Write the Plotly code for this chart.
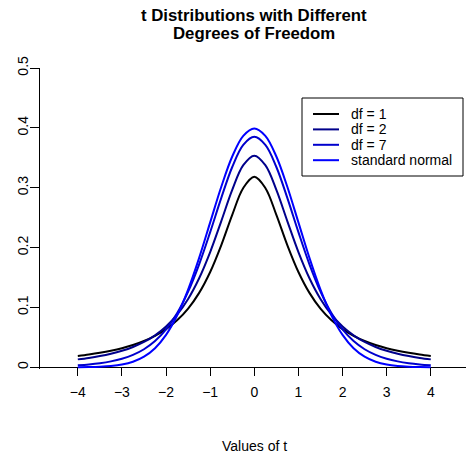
import plotly.graph_objects as go

# t values (x grid)
t_values = [-4.0, -3.75, -3.5, -3.25, -3.0, -2.75, -2.5, -2.25, -2.0, -1.75, -1.5, -1.25, -1.0,
            -0.75, -0.5, -0.25, 0.0, 0.25, 0.5, 0.75, 1.0, 1.25, 1.5, 1.75, 2.0, 2.25, 2.5,
            2.75, 3.0, 3.25, 3.5, 3.75, 4.0]

# density values (one side; curves are symmetric about 0)
_df1_half = [0.31831, 0.29959, 0.25465, 0.20372, 0.15915, 0.12422, 0.09794, 0.07835, 0.06366,
             0.05251, 0.04390, 0.03717, 0.03183, 0.02753, 0.02402, 0.02113, 0.01872]
_df2_half = [0.35355, 0.33761, 0.29630, 0.24378, 0.19245, 0.14872, 0.11413, 0.08779, 0.06804,
             0.05328, 0.04220, 0.03382, 0.02741, 0.02246, 0.01859, 0.01553, 0.01309]
_df7_half = [0.38499, 0.37154, 0.33457, 0.28261, 0.22567, 0.17196, 0.12626, 0.09016, 0.06314,
             0.04366, 0.02999, 0.02055, 0.01410, 0.00972, 0.00673, 0.00470, 0.00330]
_norm_half = [0.39894, 0.38667, 0.35207, 0.30114, 0.24197, 0.18265, 0.12952, 0.08628, 0.05399,
              0.03174, 0.01753, 0.00909, 0.00443, 0.00203, 0.00087, 0.00035, 0.00013]

density_df1 = _df1_half[::-1] + _df1_half[1:]
density_df2 = _df2_half[::-1] + _df2_half[1:]
density_df7 = _df7_half[::-1] + _df7_half[1:]
density_normal = _norm_half[::-1] + _norm_half[1:]

series_names = ["df = 1", "df = 2", "df = 7", "standard normal"]
series_values = [density_df1, density_df2, density_df7, density_normal]
series_colors = ["#000000", "#00008B", "#0000CD", "#0000FF"]

x_ticks = [-4, -3, -2, -1, 0, 1, 2, 3, 4]
x_tick_labels = ["\u22124", "\u22123", "\u22122", "\u22121", "0", "1", "2", "3", "4"]
y_ticks = [0, 0.1, 0.2, 0.3, 0.4, 0.5]
y_tick_labels = ["0", "0.1", "0.2", "0.3", "0.4", "0.5"]

FONT = "Liberation Sans, Arial, Helvetica, sans-serif"

W, H = 466, 453
# plot area in page pixels: x 40..466, y 68..369
ML, MT = 40, 68
MR = 0
MB = H - 369
PW, PH = W - ML - MR, H - MT - MB


def px_x(p):
    # page pixel -> paper x
    return (p - ML) / PW


def px_y(p):
    # page pixel -> paper y
    return (H - MB - p) / PH


fig = go.Figure()
for name, vals, col in zip(series_names, series_values, series_colors):
    fig.add_trace(go.Scatter(x=t_values, y=vals, mode="lines", name=name, showlegend=False,
                             hoverinfo="skip",
                             line=dict(color=col, width=2, shape="spline", smoothing=1.0)))

# manual legend box (R style)
shapes = [dict(type="rect", xref="paper", yref="paper",
               x0=px_x(302), x1=px_x(463), y0=px_y(176), y1=px_y(98),
               line=dict(color="black", width=1), fillcolor="white", layer="above")]
annotations = []
row_y = [114, 129.4, 144.8, 160.2]
for name, col, ry in zip(series_names, series_colors, row_y):
    shapes.append(dict(type="line", xref="paper", yref="paper",
                       x0=px_x(313), x1=px_x(339), y0=px_y(ry), y1=px_y(ry),
                       line=dict(color=col, width=2), layer="above"))
    annotations.append(dict(text=name, xref="paper", yref="paper", x=px_x(349), y=px_y(ry),
                            xanchor="left", yanchor="middle", showarrow=False,
                            font=dict(family=FONT, size=14, color="black")))

annotations += [
    dict(text="<b>t Distributions with Different</b>", xref="x", yref="paper",
         x=0, y=px_y(15), xanchor="center", yanchor="middle",
         showarrow=False, font=dict(family=FONT, size=16.8, color="black")),
    dict(text="<b>Degrees of Freedom</b>", xref="x", yref="paper",
         x=0, y=px_y(34), xanchor="center", yanchor="middle",
         showarrow=False, font=dict(family=FONT, size=16.8, color="black")),
    dict(text="Values of t", xref="x", yref="paper",
         x=0, y=px_y(446), xanchor="center", yanchor="middle",
         showarrow=False, font=dict(family=FONT, size=14, color="black")),
]

y_lo = -0.003
fig.update_layout(
    width=W, height=H,
    margin=dict(l=ML, r=MR, t=MT, b=MB, autoexpand=False),
    paper_bgcolor="white", plot_bgcolor="white",
    font=dict(family=FONT, size=14, color="black"),
    showlegend=False,
    hovermode=False,
    shapes=shapes,
    annotations=annotations,
    xaxis=dict(range=[-4.857, 4.798], showgrid=False, zeroline=False, showline=False,
               automargin=False,
               tickmode="array", tickvals=x_ticks, ticktext=x_tick_labels,
               ticks="outside", ticklen=8, tickcolor="black", tickwidth=1,
               ticklabelstandoff=4,
               anchor="free", position=(0 - y_lo) / (0.5 - y_lo),
               tickfont=dict(family=FONT, size=14, color="black")),
    yaxis=dict(range=[y_lo, 0.5], showgrid=False, automargin=False,
               zeroline=True, zerolinecolor="black", zerolinewidth=1,
               showline=True, linecolor="black", linewidth=1,
               tickmode="array", tickvals=y_ticks, ticktext=y_tick_labels,
               ticks="outside", ticklen=9, tickcolor="black", tickwidth=1,
               tickangle=-90, ticklabelstandoff=-4,
               tickfont=dict(family=FONT, size=14, color="black")),
)

fig.write_html("out.html",
               config={"displayModeBar": False, "staticPlot": True},
               post_script="document.body.style.margin='0';document.body.style.overflow='hidden';")
